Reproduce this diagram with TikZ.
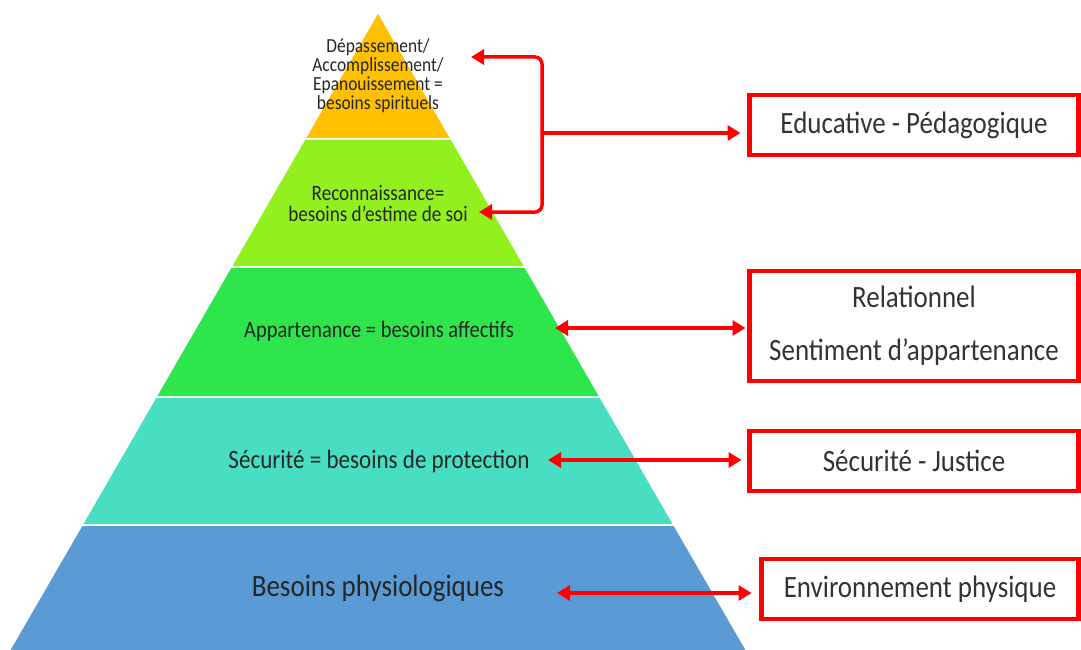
\documentclass[tikz,border=0pt]{standalone}
\usepackage{fontspec}
\setmainfont{Carlito}[FakeStretch=0.87]
\usetikzlibrary{arrows.meta}
\definecolor{lorange}{HTML}{FFC000}
\definecolor{lgreen}{HTML}{92F01F}
\definecolor{mgreen}{HTML}{2EE64B}
\definecolor{lteal}{HTML}{48DEC1}
\definecolor{lblue}{HTML}{5B9BD5}
\definecolor{txt}{HTML}{262626}
\definecolor{boxtxt}{HTML}{333333}
\definecolor{rred}{HTML}{FF0000}
\tikzset{
  layer/.style={draw=white, line width=1.5pt},
  ptext/.style={text=txt, align=center, inner sep=0pt},
  redbox/.style={draw=rred, line width=4.5pt, fill=white, inner sep=0pt, outer sep=0pt, text=boxtxt, align=center, font=\fontsize{31}{36}\selectfont},
  arr/.style={draw=rred, line width=3.5pt, -{Triangle[length=13pt,width=15pt]}},
  darr/.style={draw=rred, line width=3.5pt, {Triangle[length=13pt,width=15pt]}-{Triangle[length=13pt,width=15pt]}}
}
\begin{document}
\begin{tikzpicture}[x=1pt,y=-1pt]
\useasboundingbox (0,0) rectangle (1081,650);
% pyramid layers (apex 378,12 ; slope 0.577)
\coordinate (apex) at (378,12);
\fill[lorange,layer] (378,12) -- (451.3,139) -- (304.7,139) -- cycle;
\fill[lgreen,layer] (304.7,139) -- (451.3,139) -- (525.2,267) -- (230.8,267) -- cycle;
\fill[mgreen,layer] (230.8,267) -- (525.2,267) -- (600.2,397) -- (155.8,397) -- cycle;
\fill[lteal,layer] (155.8,397) -- (600.2,397) -- (674.1,525) -- (81.9,525) -- cycle;
\fill[lblue,layer] (81.9,525) -- (674.1,525) -- (747,651) -- (9,651) -- cycle;
% layer texts
\node[ptext, font=\fontsize{20}{19}\selectfont] (t5) at (378,76) {Dépassement/\\Accomplissement/\\Epanouissement =\\besoins spirituels};
\node[ptext, font=\fontsize{22}{21}\selectfont] (t4) at (378,204) {Reconnaissance=\\besoins d’estime de soi};
\node[ptext, font=\fontsize{23.5}{24}\selectfont] (t3) at (379,331) {Appartenance = besoins affectifs};
\node[ptext, font=\fontsize{26.5}{28}\selectfont] (t2) at (379,461) {Sécurité = besoins de protection};
\node[ptext, font=\fontsize{31}{34}\selectfont] (t1) at (378,588) {Besoins physiologiques};
% boxes
\node[redbox, minimum width=329pt, minimum height=60pt] (b1) at (914,125) {Educative - Pédagogique};
\node[redbox, minimum width=329pt, minimum height=110pt, font=\fontsize{31}{53}\selectfont] (b2) at (914,326) {Relationnel\\Sentiment d’appartenance};
\node[redbox, minimum width=329pt, minimum height=60pt] (b3) at (914,461) {Sécurité - Justice};
\node[redbox, minimum width=317pt, minimum height=60pt] (b4) at (920,589) {Environnement physique};
% arrow end coordinates
\coordinate (j) at (542,133);
\coordinate (e5) at (471,57);
\coordinate (e4) at (479,212);
\coordinate (e3) at (555,328);
\coordinate (e2) at (548,460);
\coordinate (e1) at (557,593);
% connectors
\draw[arr, rounded corners=7pt] (j) |- (e5);
\draw[arr, rounded corners=7pt] (j) |- (e4);
\draw[arr, shorten >=9pt] (j) -- (j -| b1.west);
\draw[darr, shorten >=4pt] (e3) -- (e3 -| b2.west);
\draw[darr, shorten >=8pt] (e2) -- (e2 -| b3.west);
\draw[darr, shorten >=10pt] (e1) -- (e1 -| b4.west);
\end{tikzpicture}
\end{document}
